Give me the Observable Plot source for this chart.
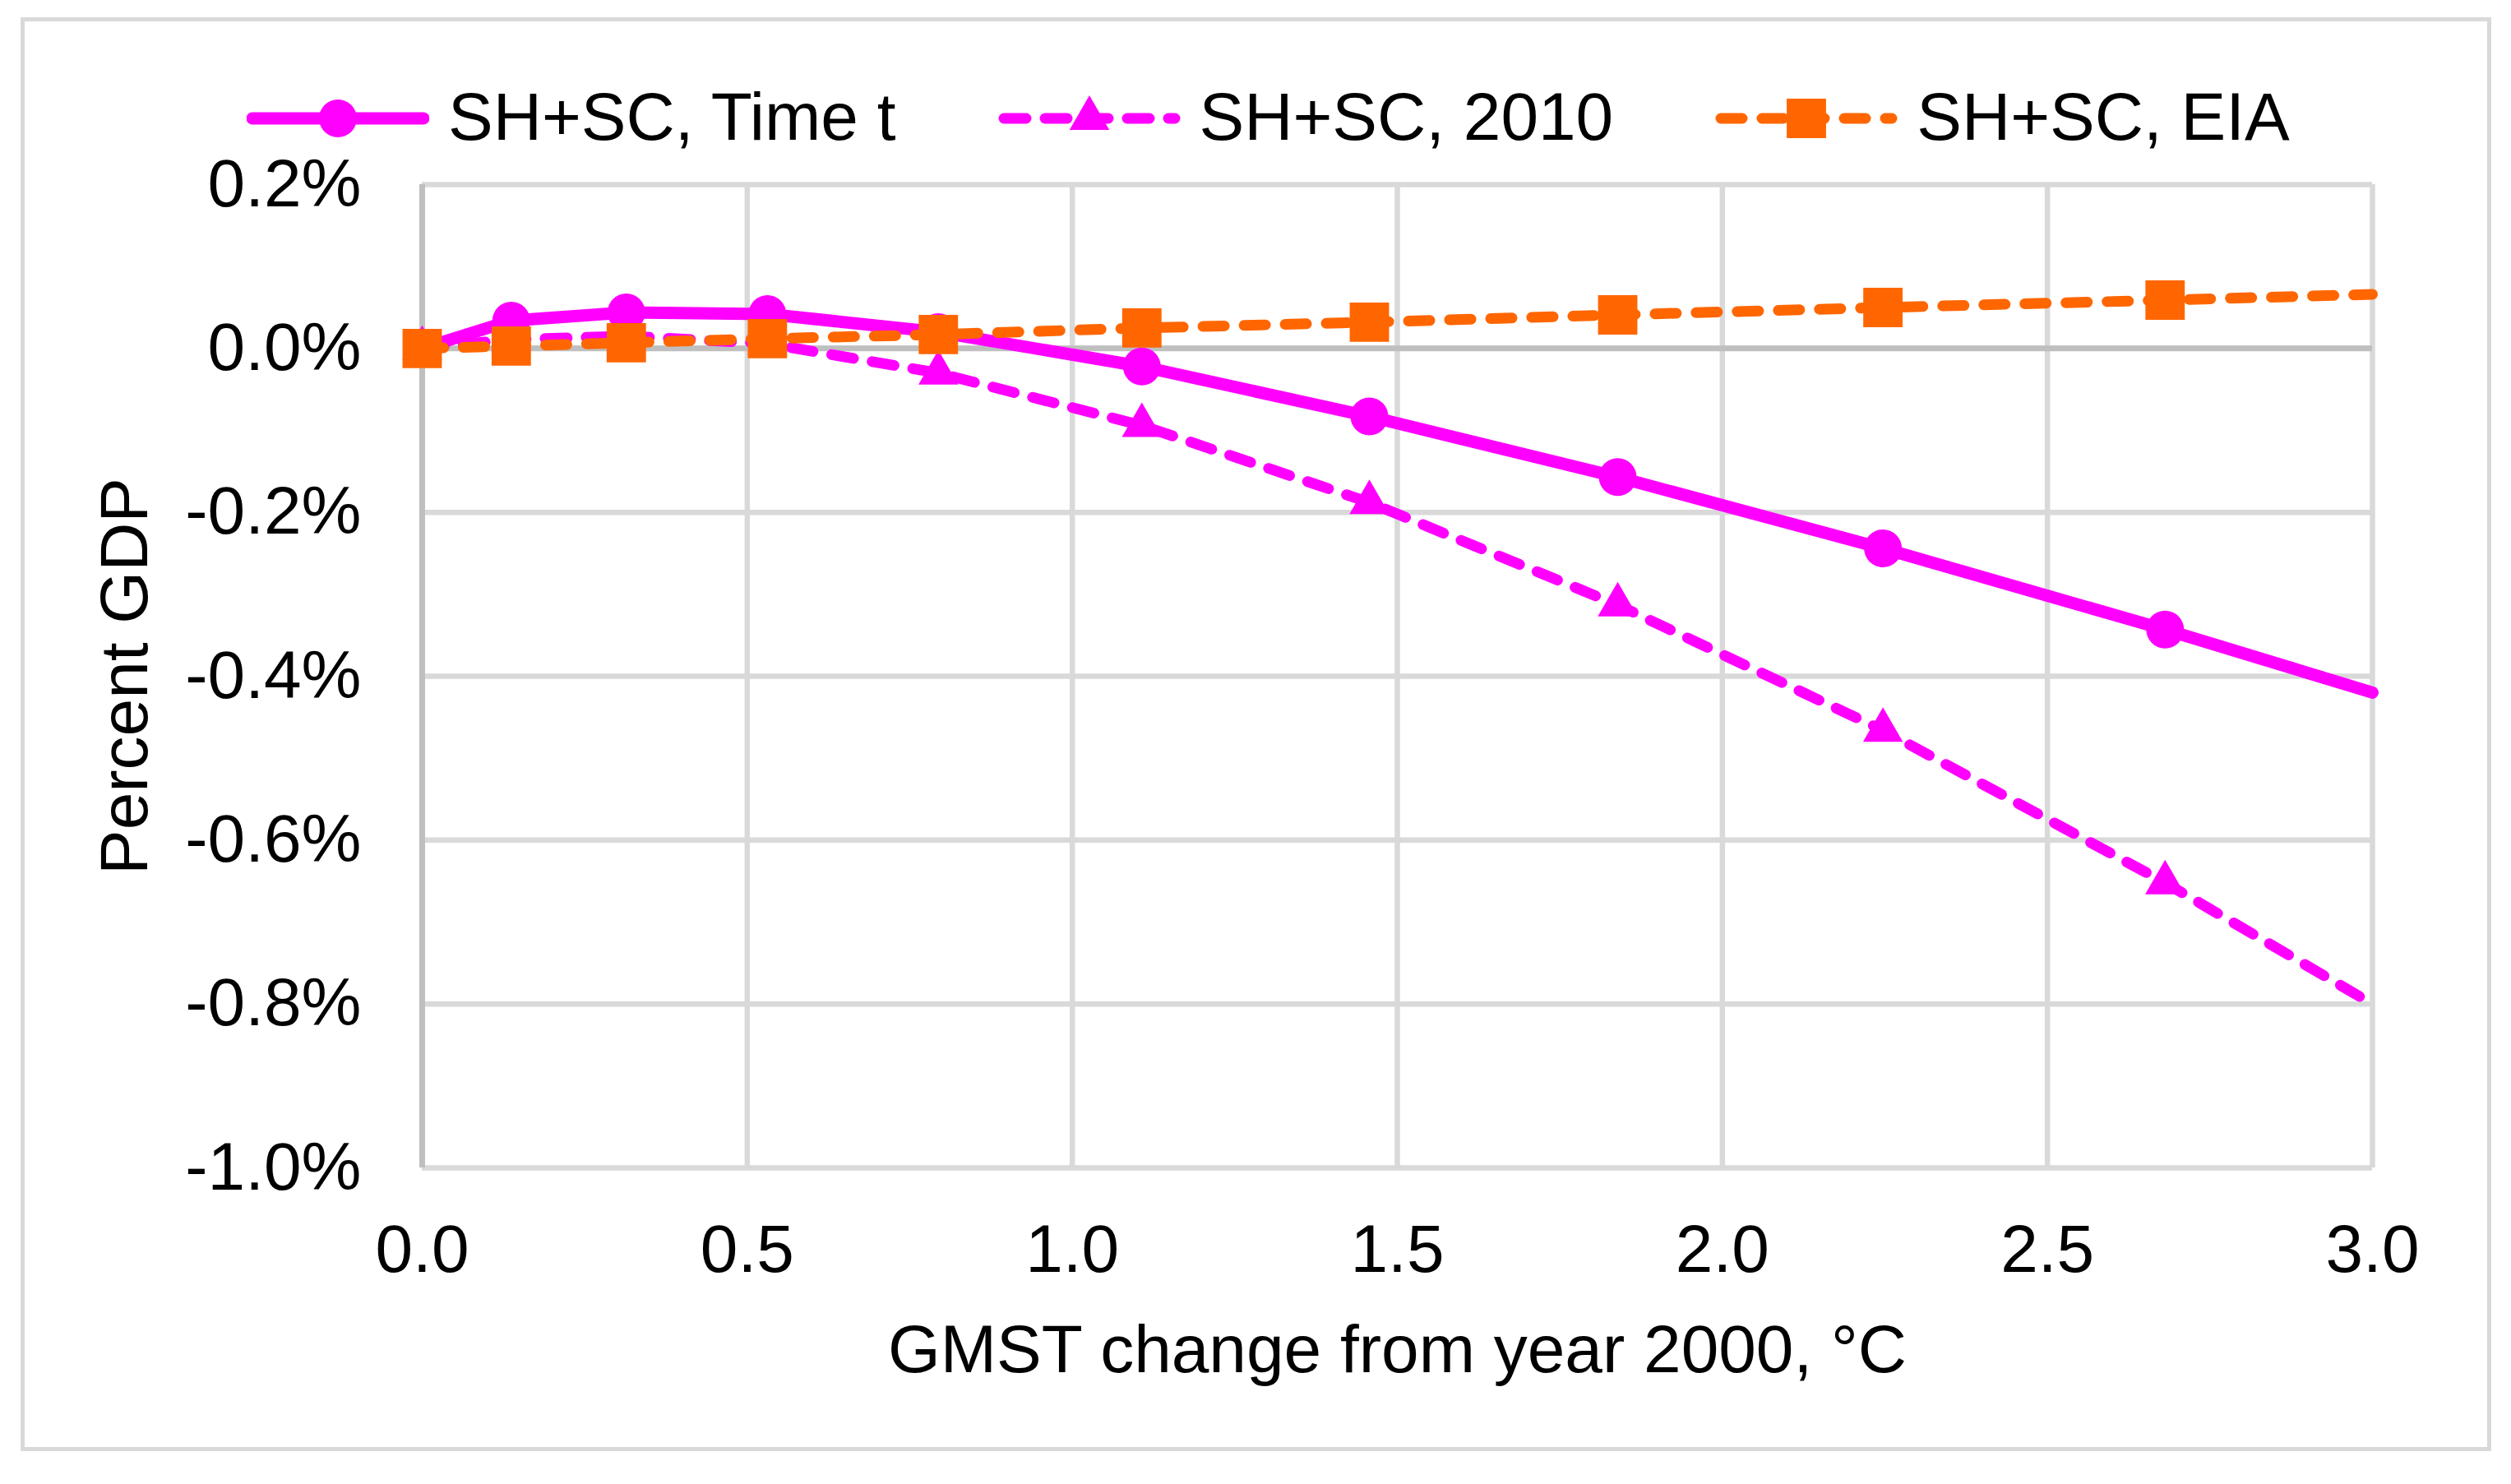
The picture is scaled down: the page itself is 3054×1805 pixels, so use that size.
<!DOCTYPE html>
<html>
<head>
<meta charset="utf-8">
<script src="https://cdn.jsdelivr.net/npm/d3@7"></script>
<script src="https://cdn.jsdelivr.net/npm/@observablehq/plot@0.6"></script>
<style>
html, body { margin: 0; padding: 0; background: #fff; }
#wrap { position: relative; width: 3054px; height: 1805px; background: #fff; overflow: hidden;
        font-family: "Liberation Sans", Arial, sans-serif; color: #000; }
#frame { position: absolute; left: 25px; top: 21px; width: 2995px; height: 1734px;
         border: 5px solid #d9d9d9; pointer-events: none; }
#legend { position: absolute; left: 300px; top: 0; height: 200px; box-sizing: border-box;
          padding-top: 88px; display: flex; align-items: center; gap: 124px; z-index: 2; }
.item { display: flex; align-items: center; }
.item span { font-size: 82px; line-height: 1; margin-left: 23px; margin-top: -4px; white-space: nowrap; }
#chart { position: absolute; left: 0; top: 170px; z-index: 1; }
</style>
</head>
<body>
<div id="wrap">
  <div id="legend"></div>
  <div id="chart"></div>
  <div id="frame"></div>
</div>
<script>
// ---- data ----
const temps     = [0, 0.137, 0.314, 0.531, 0.794, 1.107, 1.457, 1.839, 2.247, 2.681, 3.0];
const hasMarker = [true, true, true, true, true, true, true, true, true, true, false];
const timeT     = [0, 0.034, 0.044, 0.042, 0.020, -0.022, -0.083, -0.157, -0.244, -0.343, -0.420];
const y2010     = [0, 0.011, 0.015, 0.006, -0.030, -0.094, -0.188, -0.313, -0.466, -0.652, -0.800];
const eia       = [0, 0.003, 0.007, 0.012, 0.017, 0.025, 0.032, 0.041, 0.050, 0.059, 0.066];
const seriesNames = ["SH+SC, Time t", "SH+SC, 2010", "SH+SC, EIA"];
const xTicks = [0, 0.5, 1.0, 1.5, 2.0, 2.5, 3.0];
const yTicks = [-1.0, -0.8, -0.6, -0.4, -0.2, 0.0, 0.2];
const xLabel = "GMST change from year 2000, °C";
const yLabel = "Percent GDP";

// ---- styles ----
const styles = [
  {color: "#FF00FF", width: 15, dash: null,    symbol: "circle",   r: 23},
  {color: "#FF00FF", width: 13, dash: "27 23", symbol: "triangle", r: 18},
  {color: "#FF6600", width: 13, dash: "26 24", symbol: "square",   r: 27}
];
const values = [timeT, y2010, eia];

const rows = temps.map((t, i) => ({t, marker: hasMarker[i], v: values.map(s => s[i])}));
const markerRows = rows.filter(d => d.marker);

const marks = [
  Plot.gridX(xTicks, {stroke: "#d9d9d9", strokeOpacity: 1, strokeWidth: 6.5}),
  Plot.gridY(yTicks, {stroke: "#d9d9d9", strokeOpacity: 1, strokeWidth: 6.5}),
  Plot.ruleY([0], {stroke: "#bfbfbf", strokeWidth: 7}),
  Plot.ruleX([0], {stroke: "#bfbfbf", strokeWidth: 7}),
  Plot.axisX({ticks: xTicks, tickFormat: d => d.toFixed(1), tickSize: 0, tickPadding: 68,
              label: xLabel, labelAnchor: "center", labelOffset: 248, labelArrow: "none"}),
  Plot.axisY({ticks: yTicks, tickFormat: d => d.toFixed(1) + "%", tickSize: 0, tickPadding: 74,
              label: yLabel, labelAnchor: "center", labelOffset: 393, labelArrow: "none"})
];
styles.forEach((s, i) => {
  marks.push(Plot.line(rows, {x: "t", y: d => d.v[i], stroke: s.color, strokeWidth: s.width,
    strokeDasharray: s.dash, strokeLinecap: "round", strokeLinejoin: "round"}));
  marks.push(Plot.dot(markerRows, {x: "t", y: d => d.v[i], symbol: s.symbol, r: s.r,
    fill: s.color, stroke: "none"}));
});

const chart = Plot.plot({
  width: 3054,
  height: 1635,
  marginLeft: 513,
  marginRight: 169,
  marginTop: 54,
  marginBottom: 385,
  x: {domain: [0, 3]},
  y: {domain: [-1.0, 0.2]},
  style: {fontFamily: "'Liberation Sans', Arial, sans-serif", fontSize: "82px", color: "#000", background: "transparent"},
  marks
});
document.getElementById("chart").appendChild(chart);

// ---- legend ----
const legend = document.getElementById("legend");
const symMap = {circle: d3.symbolCircle, triangle: d3.symbolTriangle, square: d3.symbolSquare};
styles.forEach((s, i) => {
  const item = document.createElement("div");
  item.className = "item";
  const svg = d3.create("svg").attr("width", 222).attr("height", 60);
  svg.append("line").attr("x1", 7).attr("x2", 215).attr("y1", 30).attr("y2", 30)
    .attr("stroke", s.color).attr("stroke-width", s.width)
    .attr("stroke-dasharray", s.dash).attr("stroke-linecap", "round");
  svg.append("path").attr("transform", "translate(111,30)")
    .attr("d", d3.symbol(symMap[s.symbol], s.r * s.r * Math.PI)())
    .attr("fill", s.color);
  item.appendChild(svg.node());
  const span = document.createElement("span");
  span.textContent = seriesNames[i];
  item.appendChild(span);
  legend.appendChild(item);
});
</script>
</body>
</html>
